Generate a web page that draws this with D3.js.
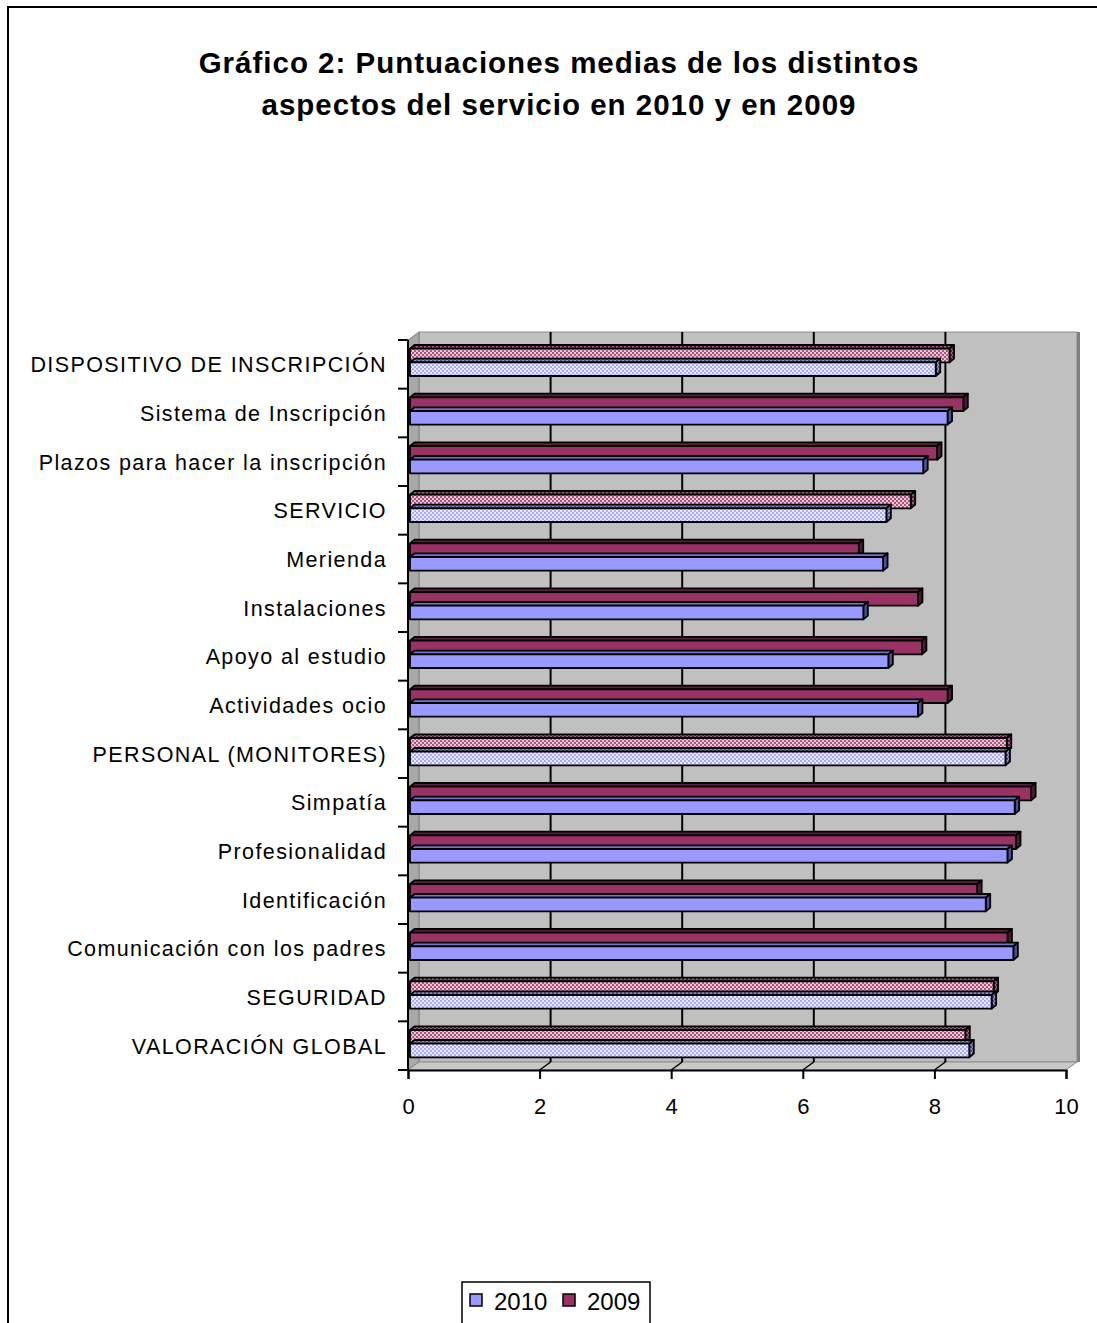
<!DOCTYPE html>
<html>
<head>
<meta charset="utf-8">
<script src="https://cdn.jsdelivr.net/npm/d3@7"></script>
<style>
  body { margin: 0; background: #fff; }
  text { font-family: "Liberation Sans", Arial, sans-serif; fill: #000; }
</style>
</head>
<body>
<div id="chart"></div>
<script>
const categories = [
  "DISPOSITIVO DE INSCRIPCIÓN",
  "Sistema de Inscripción",
  "Plazos para hacer la inscripción",
  "SERVICIO",
  "Merienda",
  "Instalaciones",
  "Apoyo al estudio",
  "Actividades ocio",
  "PERSONAL (MONITORES)",
  "Simpatía",
  "Profesionalidad",
  "Identificación",
  "Comunicación con los padres",
  "SEGURIDAD",
  "VALORACIÓN GLOBAL"
];
const values2010 = [8.02, 8.20, 7.83, 7.27, 7.22, 6.92, 7.30, 7.75, 9.08, 9.22, 9.11, 8.78, 9.20, 8.87, 8.53];
const values2009 = [8.23, 8.44, 8.04, 7.64, 6.85, 7.75, 7.81, 8.20, 9.10, 9.47, 9.24, 8.65, 9.11, 8.90, 8.47];
const summaryRows = ["DISPOSITIVO DE INSCRIPCIÓN", "SERVICIO", "PERSONAL (MONITORES)", "SEGURIDAD", "VALORACIÓN GLOBAL"];
const seriesNames = ["2010", "2009"];
const xTicks = [0, 2, 4, 6, 8, 10];

const svgWidth = 1097;
const svgHeight = 1323;
const depth = {dx: 11, dy: -8};     // wall depth
const barDepth = {dx: 4.5, dy: -3.7};

document.addEventListener("DOMContentLoaded", function(event){
  drawChart();
});

function drawChart(){
  const svg = d3.select("#chart")
    .append("svg")
    .attr("width", svgWidth)
    .attr("height", svgHeight)
    .attr("font-family", "'Liberation Sans', Arial, sans-serif");

  const defs = svg.append("defs");
  function makePattern(id, bg, fg){
    const p = defs.append("pattern")
      .attr("id", id)
      .attr("width", 4).attr("height", 4)
      .attr("patternUnits", "userSpaceOnUse");
    p.append("rect").attr("width", 4).attr("height", 4).attr("fill", bg);
    p.append("rect").attr("width", 2).attr("height", 2).attr("fill", fg);
    p.append("rect").attr("x", 2).attr("y", 2).attr("width", 2).attr("height", 2).attr("fill", fg);
  }
  makePattern("p2009", "#ecc4d8", "#a85680");
  makePattern("p2010", "#ececff", "#a8a8ff");
  makePattern("p2009dark", "#94627c", "#561f3c");
  makePattern("p2010dark", "#9090c0", "#505088");

  // outer frame
  svg.append("rect")
    .attr("x", 8).attr("y", 7)
    .attr("width", 1100).attr("height", 1330)
    .attr("fill", "none")
    .attr("stroke", "#000")
    .attr("stroke-width", 2);

  // title
  const title = svg.append("text")
    .attr("text-anchor", "middle")
    .attr("font-size", 29.5)
    .attr("font-weight", "bold")
    .attr("letter-spacing", 1);
  title.append("tspan").attr("x", 559).attr("y", 73)
    .text("Gráfico 2: Puntuaciones medias de los distintos");
  title.append("tspan").attr("x", 559).attr("y", 115)
    .text("aspectos del servicio en 2010 y en 2009");

  // scales
  const x = d3.scaleLinear().domain([0, 10]).range([408, 1066]);
  const y = d3.scaleBand().domain(categories).range([340, 1070]);
  const ySeries = d3.scaleBand().domain(["2009", "2010"]).range([8.7, 36]);

  const top = y.range()[0], bottom = y.range()[1];
  const x0 = x(0), x1 = x(10);

  // back wall
  svg.append("rect")
    .attr("x", x0 + depth.dx).attr("y", top + depth.dy)
    .attr("width", x1 - x0).attr("height", bottom - top)
    .attr("fill", "#c0c0c0")
    .attr("stroke", "#8c8c8c")
    .attr("stroke-width", 1);
  svg.append("line")
    .attr("x1", x1 + depth.dx + 1.5).attr("x2", x1 + depth.dx + 1.5)
    .attr("y1", top + depth.dy).attr("y2", bottom + depth.dy)
    .attr("stroke", "#808080").attr("stroke-width", 3);

  // left wall
  svg.append("polygon")
    .attr("points", [[x0, top], [x0 + depth.dx, top + depth.dy],
                     [x0 + depth.dx, bottom + depth.dy], [x0, bottom]].join(" "))
    .attr("fill", "#a8a8a8")
    .attr("stroke", "#808080");

  // floor
  svg.append("polygon")
    .attr("points", [[x0, bottom], [x0 + depth.dx, bottom + depth.dy],
                     [x1 + depth.dx, bottom + depth.dy], [x1, bottom]].join(" "))
    .attr("fill", "#c8c8c8")
    .attr("stroke", "#8c8c8c");

  // gridlines on back wall and floor
  xTicks.filter(d => d > 0 && d < 10).forEach(function(t){
    svg.append("line")
      .attr("x1", x(t) + depth.dx).attr("x2", x(t) + depth.dx)
      .attr("y1", top + depth.dy).attr("y2", bottom + depth.dy)
      .attr("stroke", "#000").attr("stroke-width", 2);
    svg.append("line")
      .attr("x1", x(t)).attr("y1", bottom)
      .attr("x2", x(t) + depth.dx).attr("y2", bottom + depth.dy)
      .attr("stroke", "#000").attr("stroke-width", 1.5);
  });

  // bars (drawn bottom to top so upper bars cover the top faces below)
  const bars = [];
  categories.forEach(function(c, i){
    bars.push({cat: c, series: "2010", value: values2010[i]});
    bars.push({cat: c, series: "2009", value: values2009[i]});
  });
  bars.reverse();

  const colors = {
    "2010": {front: "#9999ff", top: "#7373c8", side: "#4d4d99"},
    "2009": {front: "#993366", top: "#5c1f3d", side: "#4d1a33"}
  };

  const barG = svg.append("g");
  bars.forEach(function(b){
    const summary = summaryRows.indexOf(b.cat) >= 0;
    const col = colors[b.series];
    const front = summary ? "url(#p" + b.series + ")" : col.front;
    const dark = summary ? "url(#p" + b.series + "dark)" : col.top;
    const sideFill = summary ? "url(#p" + b.series + "dark)" : col.side;
    const bx0 = x(0) + 2;
    const bx1 = x(b.value);
    const by = y(b.cat) + ySeries(b.series);
    const bh = ySeries.bandwidth();
    const g = barG.append("g")
      .attr("stroke", "#000")
      .attr("stroke-width", 1.8)
      .attr("stroke-linejoin", "round");
    g.append("polygon")
      .attr("points", [[bx0, by], [bx0 + barDepth.dx, by + barDepth.dy],
                       [bx1 + barDepth.dx, by + barDepth.dy], [bx1, by]].join(" "))
      .attr("fill", dark);
    g.append("polygon")
      .attr("points", [[bx1, by], [bx1 + barDepth.dx, by + barDepth.dy],
                       [bx1 + barDepth.dx, by + bh + barDepth.dy], [bx1, by + bh]].join(" "))
      .attr("fill", sideFill);
    g.append("rect")
      .attr("x", bx0).attr("y", by)
      .attr("width", bx1 - bx0).attr("height", bh)
      .attr("fill", front);
  });

  // category axis
  svg.append("line")
    .attr("x1", x0).attr("x2", x0)
    .attr("y1", top).attr("y2", bottom)
    .attr("stroke", "#000").attr("stroke-width", 2);
  const catTicks = categories.map(c => y(c)).concat([bottom]);
  catTicks.forEach(function(ty){
    svg.append("line")
      .attr("x1", x0 - 10).attr("x2", x0)
      .attr("y1", ty).attr("y2", ty)
      .attr("stroke", "#000").attr("stroke-width", 2);
  });
  svg.append("g").selectAll("text")
    .data(categories)
    .join("text")
    .attr("x", 387)
    .attr("y", d => y(d) + y.bandwidth() / 2 + 8)
    .attr("text-anchor", "end")
    .attr("font-size", 21.5)
    .attr("letter-spacing", 1.4)
    .text(d => d);

  // value axis
  const xaxis = d3.axisBottom(x).tickValues(xTicks).tickSize(9).tickPadding(19).tickFormat(d3.format("d"));
  const ax = svg.append("g")
    .attr("transform", "translate(0," + bottom + ")")
    .call(xaxis);
  ax.select(".domain").attr("stroke", "#000").attr("stroke-width", 2);
  ax.selectAll(".tick line").attr("stroke", "#000").attr("stroke-width", 2);
  ax.selectAll(".tick text")
    .attr("font-size", 22)
    .attr("font-family", "'Liberation Sans', Arial, sans-serif")
    .attr("fill", "#000");

  // legend
  const legend = svg.append("g");
  legend.append("rect")
    .attr("x", 462).attr("y", 1282)
    .attr("width", 188).attr("height", 50)
    .attr("fill", "#fff")
    .attr("stroke", "#000")
    .attr("stroke-width", 1.5);
  const legendX = d3.scaleOrdinal().domain(seriesNames).range([470, 563]);
  seriesNames.forEach(function(s){
    legend.append("rect")
      .attr("x", legendX(s)).attr("y", 1294)
      .attr("width", 12).attr("height", 12)
      .attr("fill", colors[s].front)
      .attr("stroke", "#000")
      .attr("stroke-width", 1.5);
    legend.append("text")
      .attr("x", legendX(s) + 24).attr("y", 1310)
      .attr("font-size", 24)
      .text(s);
  });
}
</script>
</body>
</html>
